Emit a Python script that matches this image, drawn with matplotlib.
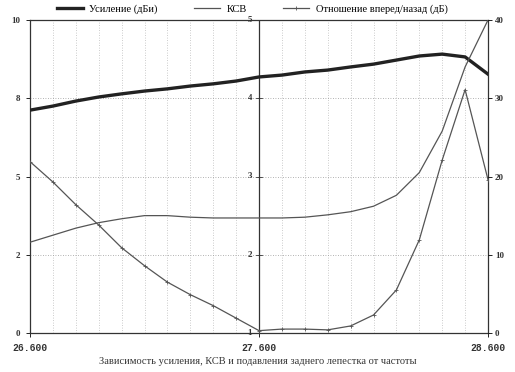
import matplotlib
matplotlib.use("Agg")
import matplotlib.pyplot as plt
from matplotlib.lines import Line2D
import numpy as np

freq = [26.6, 26.7, 26.8, 26.9, 27.0, 27.1, 27.2, 27.3, 27.4, 27.5, 27.6,
        27.7, 27.8, 27.9, 28.0, 28.1, 28.2, 28.3, 28.4, 28.5, 28.6]
gain = [7.12, 7.25, 7.41, 7.54, 7.64, 7.73, 7.80, 7.89, 7.96, 8.05, 8.18,
        8.24, 8.34, 8.40, 8.50, 8.59, 8.72, 8.85, 8.91, 8.82, 8.27]
swr = [2.16, 2.25, 2.34, 2.41, 2.46, 2.50, 2.50, 2.48, 2.47, 2.47, 2.47,
       2.47, 2.48, 2.51, 2.55, 2.62, 2.76, 3.05, 3.58, 4.40, 5.00]
fb = [21.9, 19.3, 16.4, 13.8, 10.9, 8.6, 6.5, 4.9, 3.5, 1.9, 0.3,
      0.5, 0.5, 0.4, 0.9, 2.3, 5.5, 11.9, 22.1, 31.1, 19.6]

left_ticks = [0, 2.5, 5, 7.5, 10]
left_labels = ["0", "2", "5", "8", "10"]
swr_ticks = [1, 2, 3, 4, 5]
fb_ticks = [0, 10, 20, 30, 40]
x_ticks = [26.6, 27.6, 28.6]
x_labels = ["26.600", "27.600", "28.600"]

legend_labels = ["Усиление (дБи)", "КСВ", "Отношение вперед/назад (дБ)"]
caption = "Зависимость усиления, КСВ и подавления заднего лепестка от частоты"

serif = ["Liberation Serif", "DejaVu Serif"]

fig = plt.figure(figsize=(5.15, 3.72), dpi=100)
ax = fig.add_axes([30/515, 1-333/372, 458/515, 313/372])
ax.set_xlim(26.6, 28.6)
ax.set_ylim(0, 10)

# grid
for f in np.arange(26.7, 28.6, 0.1):
    ax.axvline(f, color="#bbbbbb", lw=0.6, ls=(0, (1, 2)), zorder=0)
for v in [2.5, 5, 7.5]:
    ax.axhline(v, color="#999999", lw=0.6, ls=(0, (1, 2)), zorder=0)

ax.set_xticks(x_ticks)
ax.set_xticklabels(x_labels, family=["Liberation Mono", "DejaVu Sans Mono"],
                   fontweight="bold", fontsize=7, color="#333333")
ax.set_yticks(left_ticks)
ax.set_yticklabels(left_labels, fontsize=6.5, family=serif, fontweight="bold", color="#333333")
ax.tick_params(axis="both", length=3, width=0.6, pad=4)
for s in ax.spines.values():
    s.set_linewidth(0.9)
    s.set_color("#333333")

# SWR axis (middle)
ax2 = ax.twinx()
ax2.set_ylim(1, 5)
ax2.spines["right"].set_visible(False)
ax2.spines["left"].set_visible(False)
ax2.spines["top"].set_visible(False)
ax2.spines["bottom"].set_visible(False)
ax2.set_yticks([])

# F/B axis (right)
ax3 = ax.twinx()
ax3.set_ylim(0, 40)
ax3.set_yticks(fb_ticks)
ax3.set_yticklabels([str(t) for t in fb_ticks], fontsize=6.5, family=serif,
                    fontweight="bold", color="#333333")
ax3.tick_params(axis="y", length=3, width=0.6, pad=2)
for s in ax3.spines.values():
    s.set_visible(False)

# middle axis line with SWR labels
ax.axvline(27.6, color="#333333", lw=0.9, zorder=1)
for t in swr_ticks:
    yv = (t - 1) / 4 * 10
    ax.text(27.57, yv, str(t), ha="right", va="center", fontsize=6.5,
            family=serif, fontweight="bold", color="#333333")
    ax.plot([27.585, 27.615], [yv, yv], color="#333333", lw=0.6, clip_on=False)

l1, = ax.plot(freq, gain, color="#222222", lw=2.4, zorder=3)
l2, = ax2.plot(freq, swr, color="#555555", lw=0.9, zorder=3)
l3, = ax3.plot(freq, fb, color="#555555", lw=0.9, marker="+", ms=3, mew=0.6, zorder=3)

handles = [Line2D([], [], color="#222222", lw=2.4),
           Line2D([], [], color="#555555", lw=0.9),
           Line2D([], [], color="#555555", lw=0.9, marker="+", ms=3, mew=0.6)]
fig.legend(handles, legend_labels, loc="center", bbox_to_anchor=(0.49, 0.975),
           ncol=3, frameon=False, prop={"family": serif, "size": 7.5},
           handlelength=2.5, columnspacing=3.5, handletextpad=0.6)

fig.text(0.5, 0.027, caption, ha="center", va="center", fontsize=7.5,
         family=serif, color="#333333")

fig.savefig("out.png", dpi=100)
